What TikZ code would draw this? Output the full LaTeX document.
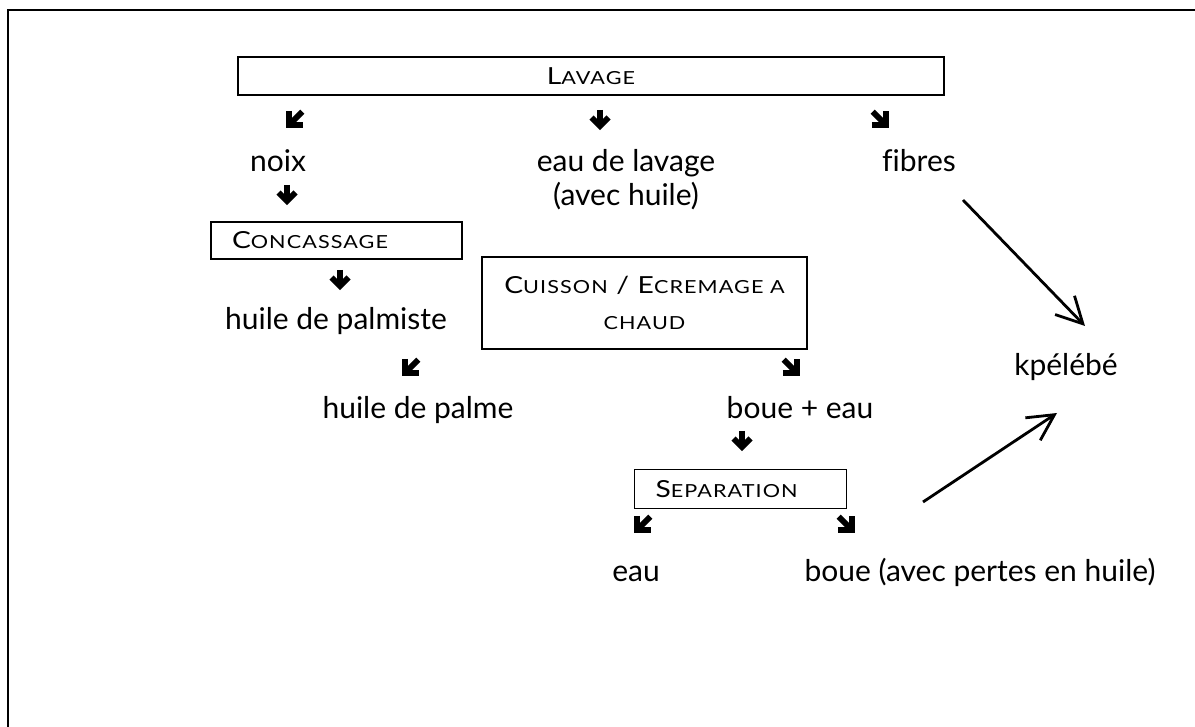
\documentclass[tikz,border=0pt]{standalone}
\usepackage{fontspec}
\setmainfont{Lato}
\newfontfamily\stagefont{Lato}[FakeStretch=1.2, LetterSpace=6]
\usetikzlibrary{arrows.meta}
% reduced capitals for the stage names
\newcommand\smc[1]{{\fontsize{18}{36}\selectfont #1}}
\begin{document}
\begin{tikzpicture}[x=1pt,y=-1pt,
  every node/.style={inner sep=0pt, outer sep=0pt},
  body/.style={font=\fontsize{30}{34}\selectfont, anchor=base},
  stage/.style={draw, line width=1.8pt, font=\stagefont\fontsize{23.5}{36}\selectfont},
  link/.style={line width=2.8pt, -{Straight Barb[length=26pt,width=27pt]}},
  downleft/.style={rotate=-45, scale=1.2},
  downright/.style={rotate=45, scale=1.2},
  fatarrow/.pic={
    \draw[line width=5.8pt] (0,-11) -- (0,5);
    \draw[line width=5.8pt, miter limit=10] (-8.5,-3.5) -- (0,5) -- (8.5,-3.5);
  }]
\useasboundingbox (0,0) rectangle (1195,727);
\clip (0,0) rectangle (1195,727);
% outer frame
\draw[line width=2.4pt] (8,10) rectangle (1300,800);

% stages
\node[stage, minimum width=706, minimum height=38] (lavage) at (591,76)
  {L\smc{AVAGE}};
\node[stage, minimum width=251, minimum height=37, text width=209, inner xsep=21, align=left]
  (concassage) at (336.5,240.5) {C\smc{ONCASSAGE}};
\node[stage, minimum width=325, minimum height=92, align=center]
  (cuisson) at (644.5,303) {C\smc{UISSON} / E\smc{CREMAGE A}\\\smc{CHAUD}};
\node[stage, minimum width=212, minimum height=39, text width=170, inner xsep=21, align=left]
  (separation) at (740.5,489) {S\smc{EPARATION}};

% products
\node[body] (noix) at (278,172) {noix};
\node[body, align=center] (eaulav) at (626,206) {eau de lavage\\(avec huile)};
\node[body] (fibres) at (919,172) {f\kern0pt ibres};
\node[body] (palmiste) at (336,330) {huile de palmiste};
\node[body] (palme) at (418,419) {huile de palme};
\node[body] (boueeau) at (800,419) {boue + eau};
\node[body] (eau) at (636,581) {eau};
\node[body] (boue) at (980,581) {boue (avec pertes en huile)};
\node[body] (kpelebe) at (1066,376) {kpélébé};

% bold flow marks
\pic[downleft] at (293,121) {fatarrow};
\pic at (600,121) {fatarrow};
\pic[downright] at (882,121) {fatarrow};
\pic at (287,196) {fatarrow};
\pic at (340,281) {fatarrow};
\pic[downleft] at (409,369) {fatarrow};
\pic[downright] at (793,369) {fatarrow};
\pic at (742,442) {fatarrow};
\pic[downleft] at (641,526) {fatarrow};
\pic[downright] at (848,526) {fatarrow};

% by-products going to kpélébé
\coordinate (f1) at (963,200);
\coordinate (k1) at (1085,326);
\coordinate (b1) at (923,502);
\coordinate (k2) at (1057,413);
\draw[link] (f1) -- (k1);
\draw[link] (b1) -- (k2);
\end{tikzpicture}
\end{document}
